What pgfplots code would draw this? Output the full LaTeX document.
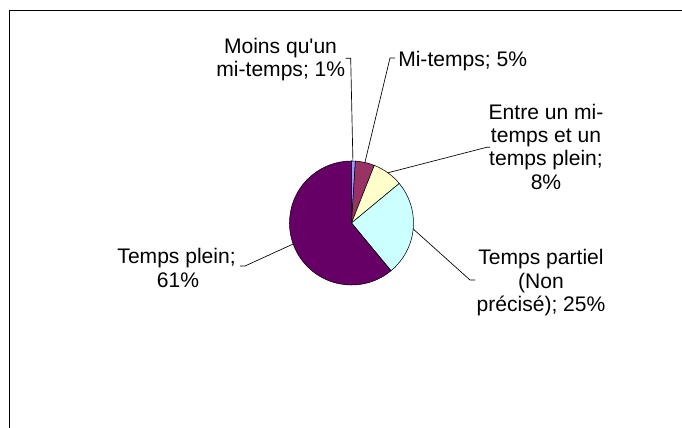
\documentclass[border=0pt]{standalone}
\usepackage{pgfplots}
\pgfplotsset{compat=1.18}
\usepackage{pgfplotstable}
\usepackage{fontspec}
\setmainfont{Liberation Sans}[Ligatures=TeXOff]
\definecolor{pieblue}{HTML}{9999FF}
\definecolor{piemauve}{HTML}{993366}
\definecolor{pieyellow}{HTML}{FFFFCC}
\definecolor{piecyan}{HTML}{CCFFFF}
\definecolor{piepurple}{HTML}{660066}
\pgfplotstableread{
value color
1  pieblue
5  piemauve
8  pieyellow
25 piecyan
61 piepurple
}\piedata
\begin{document}
\begin{tikzpicture}[x=0.75pt,y=0.75pt,font=\fontsize{15.8}{17.6}\selectfont]
\path[use as bounding box] (0,0) rectangle (682,428);
% cumulative angles (clockwise from 12 o'clock)
\def\cum{0}
\pgfplotsforeachungrouped \i in {0,...,4}{%
  \pgfplotstablegetelem{\i}{value}\of\piedata
  \pgfmathsetmacro\sa{90-3.6*\cum}%
  \pgfmathsetmacro\cum{\cum+\pgfplotsretval}%
  \pgfmathsetmacro\ea{90-3.6*\cum}%
  \expandafter\xdef\csname pieS\i\endcsname{\sa}%
  \expandafter\xdef\csname pieE\i\endcsname{\ea}%
}
\begin{axis}[
  at={(263.625pt,153.75pt)}, anchor=origin,
  x=46.5pt, y=46.5pt,
  xmin=-1, xmax=1, ymin=-1, ymax=1,
  hide axis, clip=false,
]
\pgfplotsinvokeforeach{0,...,4}{%
  \pgfplotstablegetelem{#1}{color}\of\piedata
  \edef\tmp{\noexpand\filldraw[fill=\pgfplotsretval, draw=black, line width=0.4pt]
    (axis cs:0,0) -- (axis cs:{cos(\csname pieS#1\endcsname)},{sin(\csname pieS#1\endcsname)})
    arc[start angle=\csname pieS#1\endcsname, end angle=\csname pieE#1\endcsname, radius=1] -- cycle;}%
  \tmp
}
\end{axis}
% frame
\draw[line width=1.1pt] (9.5,-10) -- (9.5,417.5) -- (700,417.5);
% leader lines
\draw[line width=0.5pt] (345.7,369.7) -- (350.7,369.7) -- (352.9,267);
\draw[line width=0.5pt] (395,370) -- (390,370) -- (364.9,265.5);
\draw[line width=0.5pt] (387.8,255.2) -- (486.7,280.7) -- (490,280.7);
\draw[line width=0.5pt] (413.2,199) -- (470,148) -- (475,148);
\draw[line width=0.5pt] (293.2,184) -- (245,162) -- (240,162);
% labels
\node[anchor=base,inner sep=0] at (280.5,374.7) {Moins qu'un};
\node[anchor=base,inner sep=0] at (280.8,351.3) {mi-temps; 1\%};
\node[anchor=base west,inner sep=0] at (398,361.3) {Mi-temps; 5\%};
\node[anchor=base,inner sep=0] at (546,308.7) {Entre un mi-};
\node[anchor=base,inner sep=0] at (546,285.4) {temps et un};
\node[anchor=base,inner sep=0] at (546,262.1) {temps plein;};
\node[anchor=base,inner sep=0] at (546,238.8) {8\%};
\node[anchor=base,inner sep=0] at (541,163) {Temps partiel};
\node[anchor=base,inner sep=0] at (541,139.7) {(Non};
\node[anchor=base,inner sep=0] at (541,116.4) {précisé); 25\%};
\node[anchor=base east,inner sep=0] at (236,164) {Temps plein;};
\node[anchor=base,inner sep=0] at (178,140.7) {61\%};
\end{tikzpicture}
\end{document}
